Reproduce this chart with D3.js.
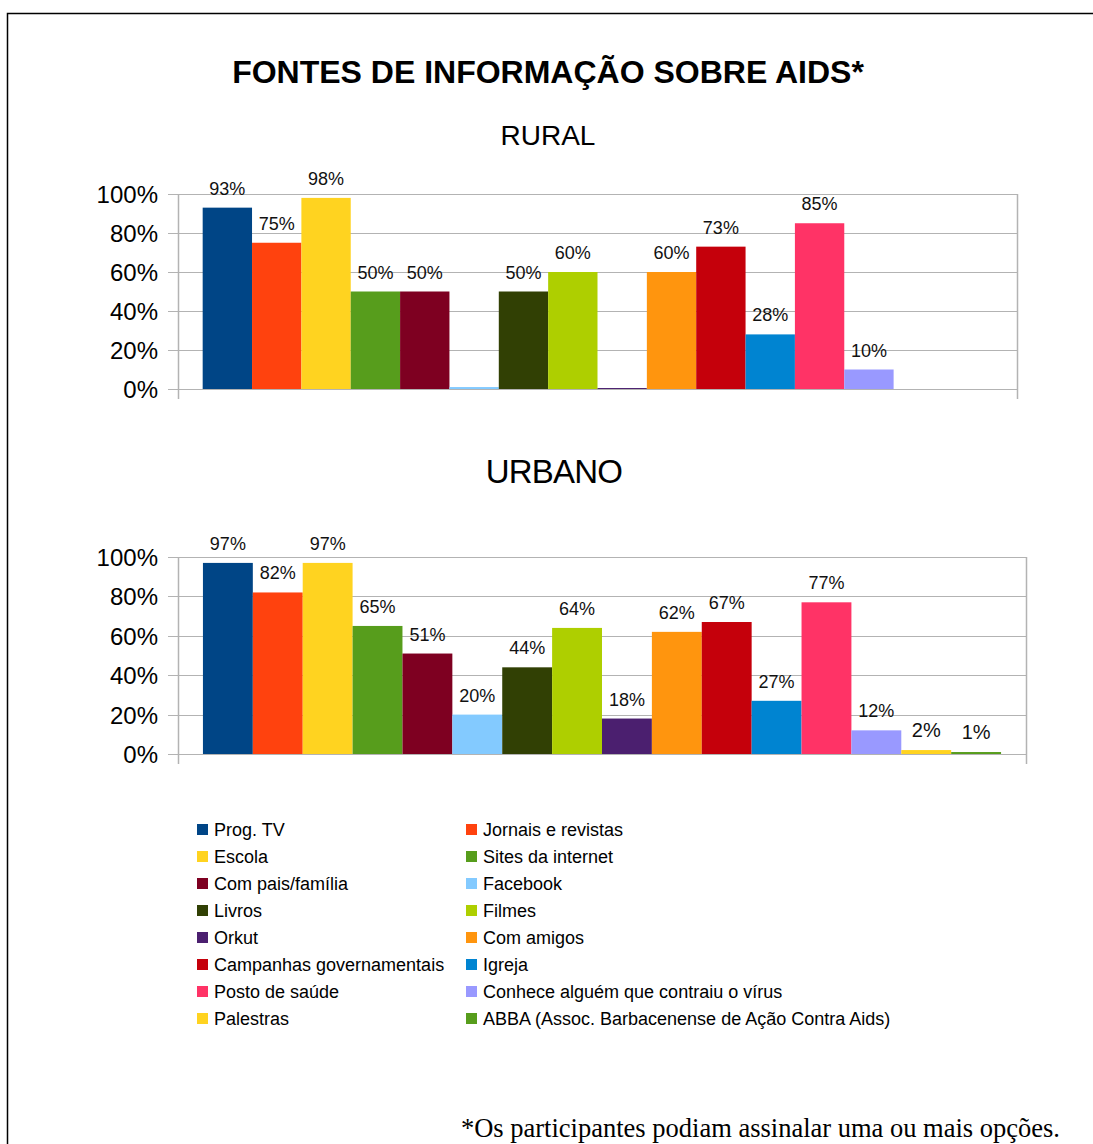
<!DOCTYPE html>
<html>
<head>
<meta charset="utf-8">
<script src="https://cdn.jsdelivr.net/npm/d3@7"></script>
<style>
  body { margin: 0; background: #fff; }
  svg { display: block; font-family: "Liberation Sans", Arial, sans-serif; }
</style>
</head>
<body>
<svg id="chart" width="1093" height="1144"></svg>
<script>
const series = ["Prog. TV", "Jornais e revistas", "Escola", "Sites da internet",
  "Com pais/família", "Facebook", "Livros", "Filmes", "Orkut", "Com amigos",
  "Campanhas governamentais", "Igreja", "Posto de saúde",
  "Conhece alguém que contraiu o vírus", "Palestras",
  "ABBA (Assoc. Barbacenense de Ação Contra Aids)"];
const colors = ["#004586", "#ff420e", "#ffd320", "#579d1c", "#7e0021", "#83caff",
  "#314004", "#aecf00", "#4b1f6f", "#ff950e", "#c5000b", "#0084d1", "#ff3366",
  "#9999ff", "#ffd320", "#579d1c"];

const ruralValues = [93, 75, 98, 50, 50, 1, 50, 60, 0.5, 60, 73, 28, 85, 10, 0, 0];
const ruralLabels = ["93%", "75%", "98%", "50%", "50%", null, "50%", "60%", null,
  "60%", "73%", "28%", "85%", "10%", null, null];
const urbanValues = [97, 82, 97, 65, 51, 20, 44, 64, 18, 62, 67, 27, 77, 12, 2, 1];
const urbanLabels = ["97%", "82%", "97%", "65%", "51%", "20%", "44%", "64%", "18%",
  "62%", "67%", "27%", "77%", "12%", "2%", "1%"];
const yTicks = [0, 20, 40, 60, 80, 100];

const svg = d3.select("#chart");

// outer frame
svg.append("path")
  .attr("d", "M7.5,1144 V13.5 H1093")
  .attr("fill", "none").attr("stroke", "#000").attr("stroke-width", 1.5);

svg.append("text")
  .attr("x", 548).attr("y", 83)
  .attr("text-anchor", "middle")
  .attr("font-size", 32).attr("font-weight", "bold")
  .text("FONTES DE INFORMAÇÃO SOBRE AIDS*");

function drawPanel(title, titleX, titleY, titleSize, values, labels, left, right, top, bottom) {
  svg.append("text")
    .attr("x", titleX).attr("y", titleY)
    .attr("text-anchor", "middle")
    .attr("font-size", titleSize)
    .attr("letter-spacing", title === "URBANO" ? -0.8 : 0)
    .text(title);

  const x = d3.scaleBand().domain(series).range([left, right])
    .paddingInner(0).paddingOuter(0.5);
  const y = d3.scaleLinear().domain([0, 100]).range([bottom, top]);

  const rows = values.map((v, i) => ({ name: series[i], value: v, label: labels[i], color: colors[i] }));

  const g = svg.append("g");

  // grid lines + ticks
  g.selectAll(".grid").data(yTicks).enter().append("line")
    .attr("x1", left - 10).attr("x2", right)
    .attr("y1", d => Math.round(y(d)) + 0.5).attr("y2", d => Math.round(y(d)) + 0.5)
    .attr("stroke", "#b3b3b3").attr("stroke-width", 1);

  // vertical borders
  [left, right].forEach(xx => {
    g.append("line")
      .attr("x1", xx + 0.5).attr("x2", xx + 0.5)
      .attr("y1", top).attr("y2", bottom + 10)
      .attr("stroke", "#b3b3b3").attr("stroke-width", 1.5);
  });

  g.selectAll(".ylab").data(yTicks).enter().append("text")
    .attr("x", 158).attr("y", d => y(d) + 9)
    .attr("text-anchor", "end")
    .attr("font-size", 24)
    .text(d => d + "%");

  g.selectAll(".bar").data(rows).enter().append("rect")
    .attr("x", d => x(d.name))
    .attr("width", x.bandwidth())
    .attr("y", d => y(d.value))
    .attr("height", d => Math.max(0, y(0) - y(d.value)))
    .attr("fill", d => d.color);

  g.selectAll(".val").data(rows.filter(d => d.label !== null)).enter().append("text")
    .attr("x", d => x(d.name) + x.bandwidth() / 2)
    .attr("y", d => y(d.value) - 13)
    .attr("text-anchor", "middle")
    .attr("font-size", d => d.value < 5 ? 20 : 18)
    .attr("fill", "#111")
    .text(d => d.label);
}

drawPanel("RURAL", 548, 145, 28, ruralValues, ruralLabels, 178, 1017, 194, 389);
drawPanel("URBANO", 554, 483, 33, urbanValues, urbanLabels, 178, 1026, 557, 754);

// legend
const legend = svg.append("g");
series.forEach((s, i) => {
  const col = i % 2, row = Math.floor(i / 2);
  const lx = col === 0 ? 197 : 466;
  const ly = 824 + row * 27;
  legend.append("rect")
    .attr("x", lx).attr("y", ly)
    .attr("width", 11).attr("height", 11)
    .attr("fill", colors[i]);
  legend.append("text")
    .attr("x", lx + 17).attr("y", ly + 12)
    .attr("font-size", 18)
    .text(s);
});

svg.append("text")
  .attr("x", 1060).attr("y", 1137)
  .attr("text-anchor", "end")
  .attr("font-family", "'Liberation Serif', 'Times New Roman', serif")
  .attr("font-size", 26.5)
  .text("*Os participantes podiam assinalar uma ou mais opções.");
</script>
</body>
</html>
